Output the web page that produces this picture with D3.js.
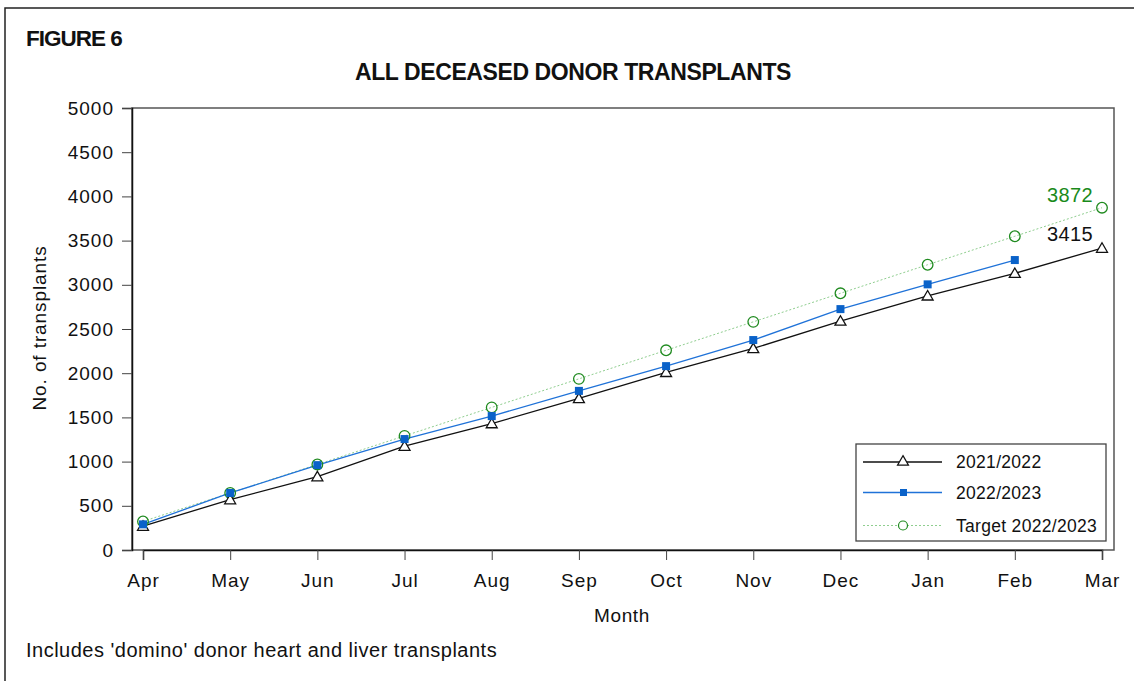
<!DOCTYPE html>
<html>

<head>
  <meta charset="UTF-8">
  <title>Figure 6</title>
  <script src="https://d3js.org/d3.v7.min.js"></script>
  <style>
    body {
      margin: 0;
      background: #fff;
    }

    text {
      font-family: "Liberation Sans", Arial, sans-serif;
      fill: #111;
    }
  </style>
</head>

<body>
  <svg></svg>
</body>

<script>
  // data
  let months = ["Apr", "May", "Jun", "Jul", "Aug", "Sep", "Oct", "Nov", "Dec", "Jan", "Feb", "Mar"];
  let values2122 = [270, 570, 830, 1175, 1430, 1715, 2010, 2280, 2590, 2875, 3130, 3415];
  let values2223 = [290, 645, 960, 1255, 1515, 1800, 2080, 2375, 2725, 3005, 3280];
  let valuesTarget = [323, 645, 968, 1291, 1613, 1936, 2259, 2581, 2904, 3227, 3549, 3872];
  let yTicks = [0, 500, 1000, 1500, 2000, 2500, 3000, 3500, 4000, 4500, 5000];
  let seriesNames = ["2021/2022", "2022/2023", "Target 2022/2023"];

  let width = 1134,
    height = 681;

  let svg = d3.select("svg")
    .attr("width", width)
    .attr("height", height);

  let plot = { left: 132, right: 1114, top: 108, bottom: 550 };

  let x = d3.scalePoint()
    .domain(months)
    .range([143, 1102]);

  let y = d3.scaleLinear()
    .domain([0, 5000])
    .range([plot.bottom, plot.top]);

  // outer figure frame (left + top)
  svg.append("path")
    .attr("d", "M5," + height + "V8H" + width)
    .attr("fill", "none")
    .attr("stroke", "#222")
    .attr("stroke-width", 1.5);

  svg.append("text")
    .attr("x", 26)
    .attr("y", 46)
    .attr("font-size", 22.5)
    .attr("font-weight", "bold")
    .attr("letter-spacing", -1)
    .text("FIGURE 6");

  svg.append("text")
    .attr("x", 573)
    .attr("y", 80)
    .attr("text-anchor", "middle")
    .attr("font-size", 23)
    .attr("font-weight", "bold")
    .attr("letter-spacing", -0.4)
    .text("ALL DECEASED DONOR TRANSPLANTS");

  // plot frame
  svg.append("rect")
    .attr("x", plot.left)
    .attr("y", plot.top)
    .attr("width", plot.right - plot.left)
    .attr("height", plot.bottom - plot.top)
    .attr("fill", "none")
    .attr("stroke", "#555")
    .attr("stroke-width", 1.5);

  let yAxis = svg.append("g")
    .attr("transform", "translate(" + plot.left + ",0)")
    .call(d3.axisLeft(y).tickValues(yTicks).tickSize(10).tickPadding(8).tickFormat(d3.format("d")));
  yAxis.select(".domain").attr("stroke", "#111").attr("stroke-width", 1.5);
  yAxis.selectAll(".tick line").attr("stroke", "#444");
  yAxis.selectAll(".tick text")
    .attr("font-size", 19)
    .attr("letter-spacing", 1)
    .attr("font-family", "Liberation Sans, Arial, sans-serif");

  let xAxis = svg.append("g")
    .attr("transform", "translate(0," + plot.bottom + ")")
    .call(d3.axisBottom(x).tickSize(10).tickPadding(14));
  xAxis.select(".domain").attr("stroke", "#111").attr("stroke-width", 1.5);
  xAxis.selectAll(".tick line").attr("stroke", "#444");
  xAxis.selectAll(".tick text")
    .attr("font-size", 19)
    .attr("letter-spacing", 1)
    .attr("font-family", "Liberation Sans, Arial, sans-serif");

  svg.append("text")
    .attr("transform", "translate(46,328) rotate(-90)")
    .attr("text-anchor", "middle")
    .attr("font-size", 19)
    .attr("letter-spacing", 0.9)
    .text("No. of transplants");

  svg.append("text")
    .attr("x", 622)
    .attr("y", 622)
    .attr("text-anchor", "middle")
    .attr("font-size", 19)
    .attr("letter-spacing", 0.6)
    .text("Month");

  svg.append("text")
    .attr("x", 26)
    .attr("y", 657)
    .attr("font-size", 20)
    .attr("letter-spacing", 0.5)
    .text("Includes 'domino' donor heart and liver transplants");

  let line = d3.line()
    .x((d, i) => x(months[i]))
    .y(d => y(d));

  let triangle = d3.symbol().type(d3.symbolTriangle).size(52);

  // target series (dotted green)
  svg.append("path")
    .datum(valuesTarget)
    .attr("d", line)
    .attr("fill", "none")
    .attr("stroke", "#8fce8f")
    .attr("stroke-width", 1)
    .attr("stroke-dasharray", "2,2");

  svg.append("path")
    .datum(values2122)
    .attr("d", line)
    .attr("fill", "none")
    .attr("stroke", "#111")
    .attr("stroke-width", 1.3);

  svg.append("path")
    .datum(values2223)
    .attr("d", line)
    .attr("fill", "none")
    .attr("stroke", "#1f72d8")
    .attr("stroke-width", 1.3);

  svg.append("g")
    .selectAll("circle")
    .data(valuesTarget)
    .enter()
    .append("circle")
    .attr("cx", (d, i) => x(months[i]))
    .attr("cy", d => y(d))
    .attr("r", 5.3)
    .attr("fill", "none")
    .attr("stroke", "#1f8a1f")
    .attr("stroke-width", 1.3);

  svg.append("g")
    .selectAll("path")
    .data(values2122)
    .enter()
    .append("path")
    .attr("d", triangle)
    .attr("transform", (d, i) => "translate(" + x(months[i]) + "," + (y(d) + 1) + ")")
    .attr("fill", "#fff")
    .attr("stroke", "#111")
    .attr("stroke-width", 1.3);

  svg.append("g")
    .selectAll("rect")
    .data(values2223)
    .enter()
    .append("rect")
    .attr("x", (d, i) => x(months[i]) - 4)
    .attr("y", d => y(d) - 4)
    .attr("width", 8)
    .attr("height", 8)
    .attr("fill", "#0a62c9");

  // end labels
  svg.append("text")
    .attr("x", 1093)
    .attr("y", y(valuesTarget[11]) - 6)
    .attr("text-anchor", "end")
    .attr("font-size", 20)
    .attr("letter-spacing", 0.4)
    .style("fill", "#1a8a1a")
    .text(valuesTarget[11]);

  svg.append("text")
    .attr("x", 1093)
    .attr("y", y(values2122[11]) - 7)
    .attr("text-anchor", "end")
    .attr("font-size", 20)
    .attr("letter-spacing", 0.4)
    .text(values2122[11]);

  // legend
  let legend = svg.append("g").attr("transform", "translate(856,444)");
  legend.append("rect")
    .attr("width", 250)
    .attr("height", 97)
    .attr("fill", "#fff")
    .attr("stroke", "#444")
    .attr("stroke-width", 1.3);

  let rowY = [18, 48.5, 81.5];
  let lineStyles = [
    { stroke: "#111", dash: null },
    { stroke: "#1f72d8", dash: null },
    { stroke: "#8fce8f", dash: "2,2" }
  ];

  seriesNames.forEach((name, i) => {
    let g = legend.append("g").attr("transform", "translate(0," + rowY[i] + ")");
    g.append("line")
      .attr("x1", 7)
      .attr("x2", 86)
      .attr("stroke", lineStyles[i].stroke)
      .attr("stroke-width", i == 2 ? 1 : 1.3)
      .attr("stroke-dasharray", lineStyles[i].dash);
    if (i == 0) {
      g.append("path")
        .attr("d", triangle)
        .attr("transform", "translate(47,0)")
        .attr("fill", "#fff")
        .attr("stroke", "#111")
        .attr("stroke-width", 1.2);
    } else if (i == 1) {
      g.append("rect")
        .attr("x", 44)
        .attr("y", -3.5)
        .attr("width", 7)
        .attr("height", 7)
        .attr("fill", "#0a62c9");
    } else {
      g.append("circle")
        .attr("cx", 47)
        .attr("r", 4.5)
        .attr("fill", "#fff")
        .attr("stroke", "#1f8a1f")
        .attr("stroke-width", 1.2);
    }
    g.append("text")
      .attr("x", 100)
      .attr("y", 6)
      .attr("font-size", 17.5)
      .attr("letter-spacing", 0.3)
      .text(name);
  });
</script>

</html>
